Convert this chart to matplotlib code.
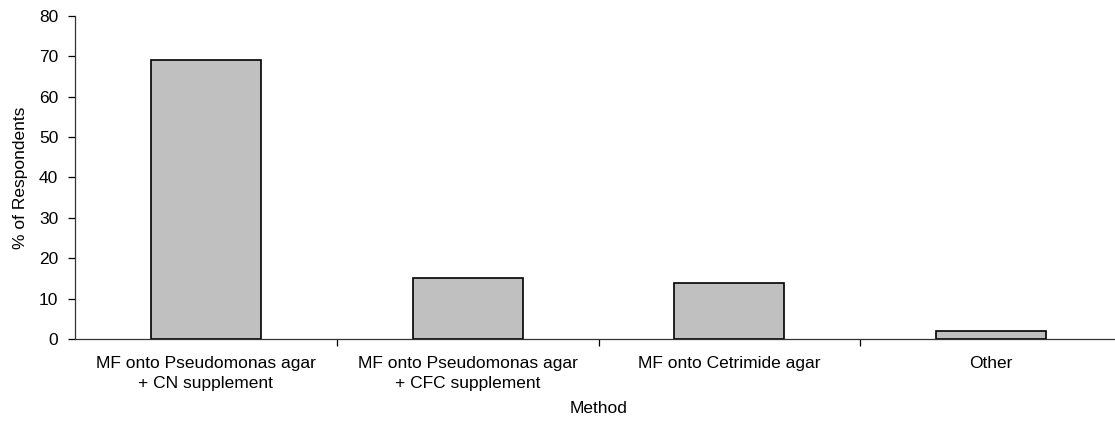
import numpy as np
import matplotlib
matplotlib.use('Agg')
import matplotlib.pyplot as plt

matplotlib.rcParams['font.family'] = ['Liberation Sans', 'DejaVu Sans']

methods = ['MF onto Pseudomonas agar\n+ CN supplement',
           'MF onto Pseudomonas agar\n+ CFC supplement',
           'MF onto Cetrimide agar',
           'Other']
percent = [69, 15, 13.8, 2]

fig = plt.figure(figsize=(11.15, 4.21), dpi=100, facecolor='white')
# axes runs slightly past the right edge, as in the original
ax = fig.add_axes([0.0673, 0.195, 0.939, 0.767])

x = np.arange(len(methods))
ax.bar(x, percent, width=0.42, color='#c0c0c0', edgecolor='black', linewidth=1.2)

ax.set_xlim(-0.5, len(methods) - 0.5)
ax.set_ylim(0, 80)
ax.set_yticks(np.arange(0, 81, 10))

fs = 12.5
# categories labelled without ticks, ticks drawn at the boundaries
ax.set_xticks(x)
ax.set_xticklabels(methods, fontsize=fs, linespacing=1.45)
ax.tick_params(axis='x', length=0, pad=12)
ax.set_xticks(np.arange(0.5, len(methods) - 0.5, 1), minor=True)
ax.tick_params(axis='x', which='minor', length=5, width=0.9, direction='out')
ax.tick_params(axis='y', length=5, width=0.9, labelsize=fs, pad=7)

for s in ['top', 'right']:
    ax.spines[s].set_visible(False)
for s in ['left', 'bottom']:
    ax.spines[s].set_linewidth(0.9)
    ax.spines[s].set_color('#333333')

ax.set_ylabel('% of Respondents', fontsize=fs, labelpad=8)
ax.set_xlabel('Method', fontsize=fs, labelpad=7)

fig.savefig('out.png', dpi=100, facecolor='white')
